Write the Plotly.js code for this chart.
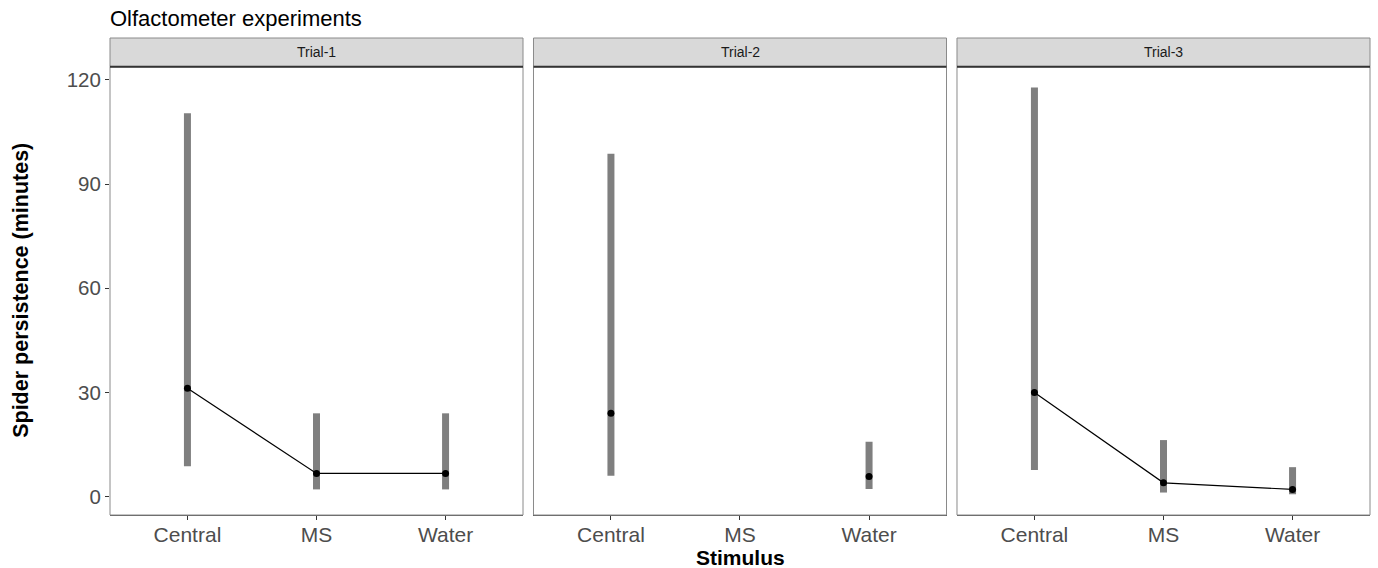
<!DOCTYPE html>
<html>
<head>
<meta charset="utf-8">
<script src="https://cdn.plot.ly/plotly-3.0.1.min.js"></script>
<style>html,body{margin:0;padding:0;background:#fff;}#chart{width:1378px;height:568px;}</style>
</head>
<body>
<div id="chart"></div>
<script>
var categories = ['Central', 'MS', 'Water'];
var trials = ['Trial-1', 'Trial-2', 'Trial-3'];

var trial1Mean = [31.2, 6.7, 6.7];
var trial1Low  = [8.8, 2.1, 2.1];
var trial1High = [110.4, 24.0, 24.0];

var trial2Mean = [24.0, null, 5.8];
var trial2Low  = [6.0, null, 2.2];
var trial2High = [98.7, null, 15.8];

var trial3Mean = [30.0, 4.0, 2.1];
var trial3Low  = [7.7, 1.2, 0.7];
var trial3High = [117.8, 16.3, 8.5];

var yTicks = [0, 30, 60, 90, 120];

var means = [trial1Mean, trial2Mean, trial3Mean];
var lows = [trial1Low, trial2Low, trial3Low];
var highs = [trial1High, trial2High, trial3High];

var FONT = 'Liberation Sans, Arial, sans-serif';
var xNames = ['x', 'x2', 'x3'];
var domains = [[0, 0.32778], [0.33611, 0.66389], [0.67222, 1]];
var yTop = 0.9399;

var traces = [];
for (var t = 0; t < 3; t++) {
  for (var c = 0; c < categories.length; c++) {
    if (lows[t][c] === null) continue;
    traces.push({
      type: 'scatter', mode: 'lines',
      x: [categories[c], categories[c]],
      y: [lows[t][c], highs[t][c]],
      xaxis: xNames[t], yaxis: 'y',
      line: {color: '#7f7f7f', width: 7},
      hoverinfo: 'skip', showlegend: false
    });
  }
}
for (var t = 0; t < 3; t++) {
  traces.push({
    type: 'scatter', mode: 'lines+markers',
    x: categories, y: means[t],
    xaxis: xNames[t], yaxis: 'y',
    connectgaps: false,
    line: {color: '#000000', width: 1.2},
    marker: {color: '#000000', size: 7},
    showlegend: false
  });
}

var layout = {
  width: 1378, height: 568,
  margin: {l: 110, r: 8, t: 38, b: 53},
  paper_bgcolor: '#ffffff', plot_bgcolor: '#ffffff',
  font: {family: FONT, color: '#4d4d4d'},
  showlegend: false,
  yaxis: {
    domain: [0, yTop], range: [-5.27, 123.8],
    tickvals: yTicks, ticktext: yTicks.map(String),
    ticks: 'outside', ticklen: 4, tickcolor: '#333333', tickwidth: 1,
    tickfont: {size: 20.5, color: '#4d4d4d', family: FONT},
    showgrid: false, zeroline: false, showline: false,
    anchor: 'x', fixedrange: true
  },
  shapes: [],
  annotations: [
    {text: 'Olfactometer experiments', xref: 'paper', yref: 'paper', x: 0, y: 1, xanchor: 'left', yanchor: 'bottom', yshift: 5, xshift: -2, showarrow: false, font: {size: 22, color: '#000000', family: FONT}},
    {text: '<b>Stimulus</b>', xref: 'paper', yref: 'paper', x: 0.5, y: 0, xanchor: 'center', yanchor: 'middle', yshift: -42, borderpad: 0, showarrow: false, font: {size: 21, color: '#000000', family: FONT}},
    {text: '<b>Spider persistence (minutes)</b>', xref: 'paper', yref: 'paper', x: 0, y: yTop / 2, xanchor: 'center', yanchor: 'middle', xshift: -89, textangle: -90, showarrow: false, font: {size: 21.5, color: '#000000', family: FONT}}
  ]
};

for (var t = 0; t < 3; t++) {
  var key = t === 0 ? 'xaxis' : 'xaxis' + (t + 1);
  layout[key] = {
    domain: domains[t], type: 'category',
    categoryorder: 'array', categoryarray: categories,
    range: [-0.6, 2.6], anchor: 'y',
    ticks: 'outside', ticklen: 4, tickcolor: '#333333', tickwidth: 1,
    ticklabelstandoff: -3,
    tickfont: {size: 21, color: '#4d4d4d', family: FONT},
    showgrid: false, zeroline: false,
    showline: true, linecolor: '#555555', linewidth: 1,
    fixedrange: true
  };
  var xr = xNames[t] + ' domain';
  layout.shapes.push({type: 'rect', xref: xr, yref: 'y domain', x0: 0, x1: 1, y0: 0, y1: 1, line: {color: '#8a8a8a', width: 1}, fillcolor: 'rgba(0,0,0,0)', layer: 'above'});
  layout.shapes.push({type: 'rect', xref: xr, yref: 'paper', x0: 0, x1: 1, y0: yTop, y1: 1, line: {color: '#8a8a8a', width: 1}, fillcolor: '#d9d9d9', layer: 'above'});
  layout.shapes.push({type: 'line', xref: xr, yref: 'paper', x0: 0, x1: 1, y0: yTop, y1: yTop, line: {color: '#333333', width: 2}, layer: 'above'});
  layout.annotations.push({text: trials[t], xref: xr, yref: 'paper', x: 0.5, y: (yTop + 1) / 2, xanchor: 'center', yanchor: 'middle', showarrow: false, font: {size: 14, color: '#1a1a1a', family: FONT}});
}

Plotly.newPlot('chart', traces, layout, {displayModeBar: false, staticPlot: true});
</script>
</body>
</html>
